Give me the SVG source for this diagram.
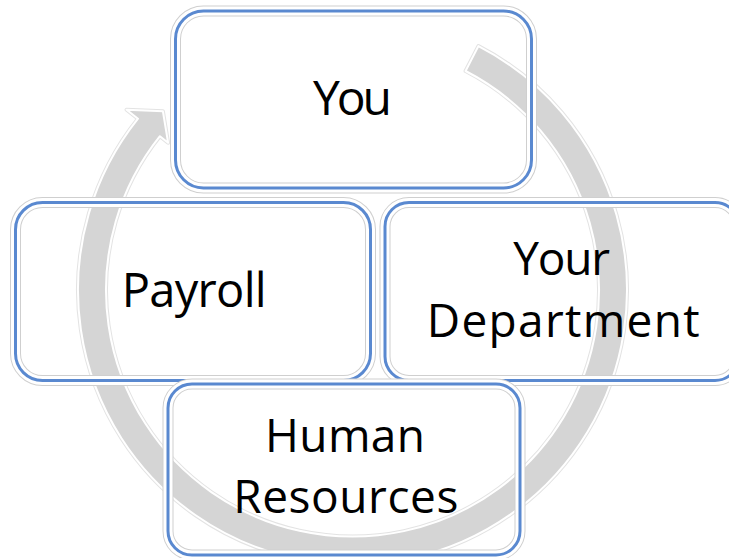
<svg xmlns="http://www.w3.org/2000/svg" width="729" height="558" viewBox="0 0 729 558">
  <style>
    .edge-out { fill: none; stroke: #cfcfcf; stroke-width: 11; }
    .edge-mid { fill: none; stroke: #ffffff; stroke-width: 9; }
    .edge { fill: none; stroke: #5a89d0; stroke-width: 3; }
    .label { font-family: "Open Sans", Lato, "Liberation Sans", sans-serif; fill: #000000; }
    .arc-halo { fill: none; stroke: #e3e3e3; stroke-width: 4; stroke-linejoin: round; }
    .arc { fill: #d5d5d5; stroke: #ffffff; stroke-width: 2; stroke-linejoin: round; }
  </style>
  <rect x="0" y="0" width="729" height="558" fill="#ffffff"/>
  <g id="connectors">
    <path class="arc-halo" d="M 478.4 46.1 A 274.5 274.5 0 1 1 138.0 118.7 L 126.6 109.7 L 162.9 111.3 L 168.1 142.8 L 159.9 136.2 A 246.5 246.5 0 1 0 465.6 71.0 Z"/>
    <path class="arc" d="M 478.4 46.1 A 274.5 274.5 0 1 1 138.0 118.7 L 126.6 109.7 L 162.9 111.3 L 168.1 142.8 L 159.9 136.2 A 246.5 246.5 0 1 0 465.6 71.0 Z"/>
  </g>
  <g id="node-you">
    <rect class="edge-out" x="175.5" y="11" width="356" height="177" rx="28"/>
    <rect class="edge-mid" x="175.5" y="11" width="356" height="177" rx="28"/>
    <rect class="edge" x="175.5" y="11" width="356" height="177" rx="28"/>
    <text class="label" x="313" y="115" font-size="48" textLength="79">You</text>
  </g>
  <g id="node-payroll">
    <rect class="edge-out" x="15.5" y="202.5" width="355" height="178" rx="27"/>
    <rect class="edge-mid" x="15.5" y="202.5" width="355" height="178" rx="27"/>
    <rect class="edge" x="15.5" y="202.5" width="355" height="178" rx="27"/>
    <text class="label" x="121.7" y="306.7" font-size="47" textLength="145">Payroll</text>
  </g>
  <g id="node-department">
    <rect class="edge-out" x="385" y="202.5" width="354" height="178" rx="24"/>
    <rect class="edge-mid" x="385" y="202.5" width="354" height="178" rx="24"/>
    <rect class="edge" x="385" y="202.5" width="354" height="178" rx="24"/>
    <text class="label" x="513.3" y="275" font-size="46" textLength="96.7">Your</text>
    <text class="label" x="426.7" y="336.7" font-size="46" textLength="273">Department</text>
  </g>
  <g id="node-hr">
    <rect class="edge-out" x="168" y="384" width="352" height="171" rx="24"/>
    <rect class="edge-mid" x="168" y="384" width="352" height="171" rx="24"/>
    <rect class="edge" x="168" y="384" width="352" height="171" rx="24"/>
    <text class="label" x="265" y="451.7" font-size="46" textLength="160">Human</text>
    <text class="label" x="233.3" y="513.3" font-size="46" textLength="225">Resources</text>
  </g>
</svg>
